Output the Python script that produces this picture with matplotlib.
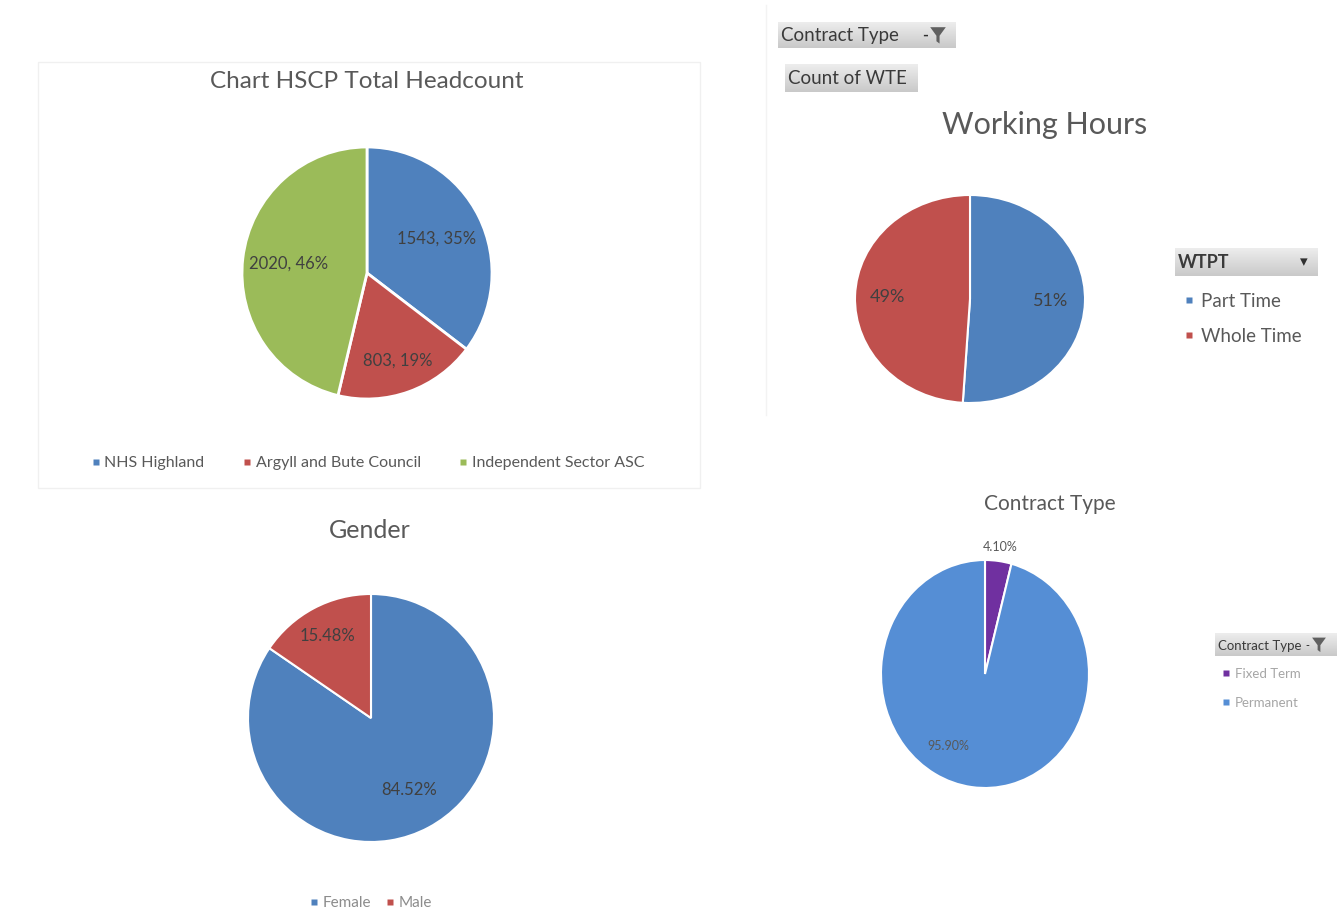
import numpy as np
import matplotlib
matplotlib.use("Agg")
import matplotlib.pyplot as plt
from matplotlib.patches import Rectangle, Polygon
from matplotlib.lines import Line2D

plt.rcParams['font.family'] = ['Lato', 'DejaVu Sans']

# data
hscp_names = ['NHS Highland', 'Argyll and Bute Council', 'Independent Sector ASC']
hscp_values = [1543, 803, 2020]
hscp_labels = ['1543, 35%', '803, 19%', '2020, 46%']

hours_names = ['Part Time', 'Whole Time']
hours_values = [51, 49]
hours_labels = ['51%', '49%']

gender_names = ['Female', 'Male']
gender_values = [84.52, 15.48]
gender_labels = ['84.52%', '15.48%']

contract_names = ['Fixed Term', 'Permanent']
contract_values = [4.10, 95.90]
contract_labels = ['4.10%', '95.90%']

W, H = 1343, 911
fig = plt.figure(figsize=(W / 100, H / 100), dpi=100)
fig.patch.set_facecolor('white')


def fx(x):
    return x / W


def fy(y):
    return 1 - y / H


def pie_axes(cx, cy, rx, ry):
    # the source screenshots are slightly stretched, so the pies are ellipses
    return fig.add_axes([fx(cx - rx), fy(cy + ry), 2 * rx / W, 2 * ry / H])


def draw_pie(ax, values, colors, labels, dists, size, color, lw=1.5, offsets=None):
    wedges, _ = ax.pie(values, colors=colors, startangle=90, counterclock=False,
                       radius=1, wedgeprops=dict(edgecolor='white', linewidth=lw))
    ax.set_aspect('auto')
    ax.set_xlim(-1, 1)
    ax.set_ylim(-1, 1)
    ax.axis('off')
    for i, (w, lab) in enumerate(zip(wedges, labels)):
        ang = np.deg2rad((w.theta1 + w.theta2) / 2 + (offsets[i] if offsets else 0))
        d = dists[i]
        ax.text(d * np.cos(ang), d * np.sin(ang), lab, ha='center', va='center',
                fontsize=size, color=color, clip_on=False)
    return wedges


def handles(wedges):
    return [Line2D([], [], linestyle='none', marker='s', markersize=4.5,
                   markerfacecolor=w.get_facecolor(), markeredgecolor='none') for w in wedges]


grad = np.linspace(0, 1, 50).reshape(-1, 1)


def button(x0, y0, x1, y1, text, size, icon=None, bold=False):
    bax = fig.add_axes([fx(x0), fy(y1), fx(x1 - x0), (y1 - y0) / H])
    bax.imshow(grad, aspect='auto', cmap=plt.matplotlib.colors.LinearSegmentedColormap.from_list(
        'btn', ['#EDEDED', '#C9C9C9']), extent=(0, 1, 0, 1))
    bax.set_axis_off()
    fig.text(fx(x0 + 3), fy((y0 + y1) / 2 + 1), text, fontsize=size, color='#3A3A3A',
             ha='left', va='center', fontweight='bold' if bold else 'normal')
    if icon == 'funnel':
        cx, cy = x1 - 17, (y0 + y1) / 2
        s = (y1 - y0) * 0.3
        pts = [(cx - s, cy - s), (cx + s, cy - s), (cx + s * 0.2, cy + 0.1 * s),
               (cx + s * 0.2, cy + s * 1.1), (cx - s * 0.2, cy + s * 0.8), (cx - s * 0.2, cy + 0.1 * s)]
        fig.add_artist(Polygon([(fx(a), fy(b)) for a, b in pts], closed=True,
                               transform=fig.transFigure, facecolor='#606060', edgecolor='none'))
        fig.text(fx(cx - s - 5), fy(cy + 1), '-', fontsize=size - 2, color='#303030',
                 ha='center', va='center', fontweight='bold')
    elif icon == 'arrow':
        fig.text(fx(x1 - 14), fy((y0 + y1) / 2), '\u25BE', fontsize=size - 2, color='#303030',
                 ha='center', va='center', family='DejaVu Sans')


title_col = '#595959'
label_col = '#404040'

# faint frames from the pasted screenshots
fig.add_artist(Rectangle((fx(38), fy(488)), fx(700 - 38), (488 - 62) / H, transform=fig.transFigure,
                         facecolor='none', edgecolor='#F0F0F0', linewidth=1.0))
fig.add_artist(Line2D([fx(766), fx(766)], [fy(5), fy(415)], transform=fig.transFigure,
                      color='#F3F3F3', linewidth=1.0))

# Chart 1 - HSCP total headcount
ax1 = pie_axes(367, 273, 125, 126)
w1 = draw_pie(ax1, hscp_values, ['#4F81BD', '#C0504D', '#9BBB59'], hscp_labels,
              [0.62, 0.74, 0.63], 12, label_col, lw=2)
fig.text(fx(367), fy(82), 'Chart HSCP Total Headcount', fontsize=17.5, color=title_col,
         ha='center', va='center')
fig.legend(handles(w1), hscp_names, loc='center', bbox_to_anchor=(fx(368), fy(463)), ncol=3,
           frameon=False, fontsize=11.5, labelcolor='#595959', handlelength=0.5,
           handletextpad=0.3, columnspacing=2.4)

# Chart 2 - Working hours
ax2 = pie_axes(970, 299, 115, 104)
w2 = draw_pie(ax2, hours_values, ['#4F81BD', '#C0504D'], hours_labels,
              [0.7, 0.72], 13, label_col, lw=1.5)
fig.text(fx(1045), fy(125), 'Working Hours', fontsize=22, color=title_col,
         ha='center', va='center')
button(778, 22, 955, 48, 'Contract Type', 13.5, 'funnel')
button(785, 64, 918, 92, 'Count of WTE', 13.5)
button(1175, 248, 1318, 276, 'WTPT', 13, 'arrow', bold=True)
fig.legend(handles(w2), hours_names, loc='upper left', bbox_to_anchor=(fx(1167), fy(276)), ncol=1,
           frameon=False, fontsize=13.5, labelcolor='#595959', handlelength=0.5,
           handletextpad=0.4, labelspacing=0.95)

# Chart 3 - Gender
ax3 = pie_axes(371, 718, 123, 124)
w3 = draw_pie(ax3, gender_values, ['#4F81BD', '#C0504D'], gender_labels,
              [0.66, 0.75], 12, label_col, lw=1.5)
fig.text(fx(370), fy(531), 'Gender', fontsize=18, color=title_col,
         ha='center', va='center')
fig.legend(handles(w3), gender_names, loc='center', bbox_to_anchor=(fx(371), fy(903)), ncol=2,
           frameon=False, fontsize=11, labelcolor='#8C8C8C', handlelength=0.5,
           handletextpad=0.3, columnspacing=1.0)

# Chart 4 - Contract type
ax4 = pie_axes(985, 674, 104, 114)
w4 = draw_pie(ax4, contract_values, ['#7030A0', '#558ED5'], contract_labels,
              [1.12, 0.72], 9, '#595959', lw=1.5, offsets=[0, -22])
fig.text(fx(1050), fy(504), 'Contract Type', fontsize=15, color=title_col,
         ha='center', va='center')
button(1215, 633, 1336, 656, 'Contract Type', 9.5, 'funnel')
fig.legend(handles(w4), contract_names, loc='upper left', bbox_to_anchor=(fx(1211), fy(656)), ncol=1,
           frameon=False, fontsize=9.5, labelcolor='#A6A6A6', handlelength=0.5,
           handletextpad=0.4, labelspacing=1.3)

fig.savefig('out.png', dpi=100, facecolor='white')
